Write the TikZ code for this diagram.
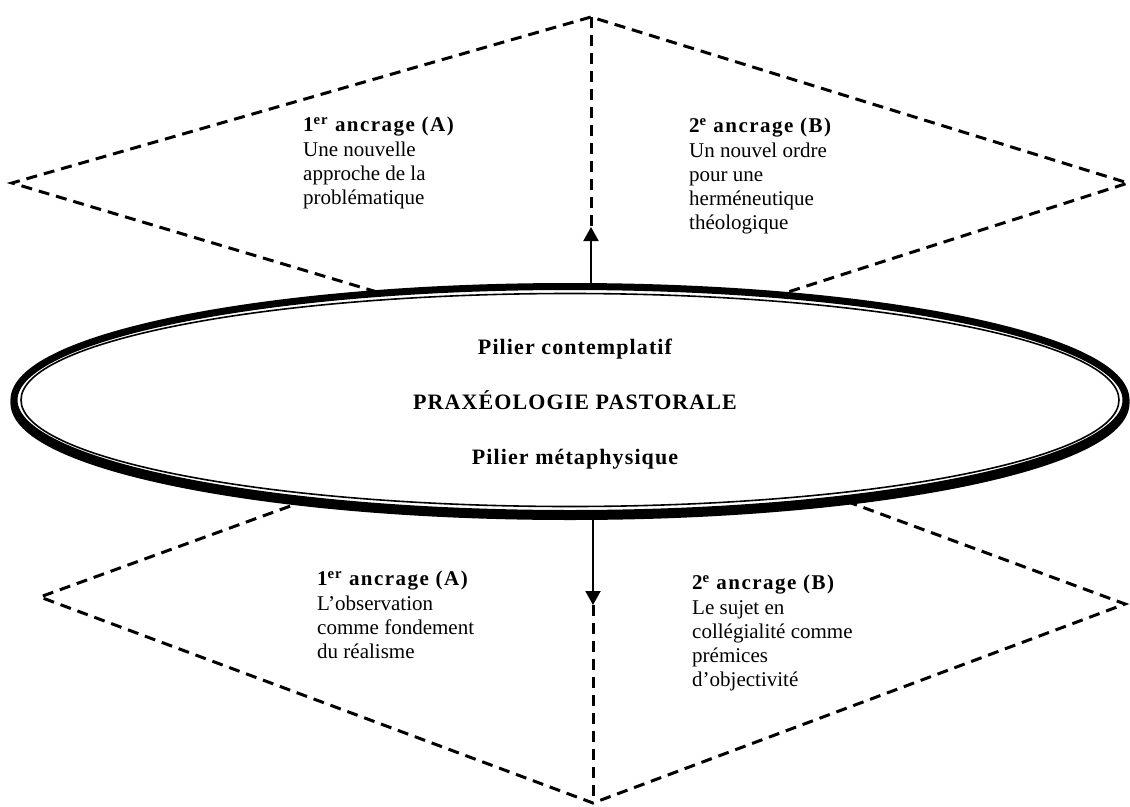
\documentclass[tikz,border=0pt]{standalone}
\usepackage{fontspec}
\setmainfont{Liberation Serif}
\usetikzlibrary{arrows.meta, positioning, shapes.geometric}

\newcommand{\anchorhead}[3]{{\bfseries\addfontfeature{LetterSpace=7}#1\textsuperscript{#2} ancrage (#3)}}

\begin{document}
\begin{tikzpicture}[x=1pt, y=-1pt,
node distance=55pt,
cutline/.style={dashed, line width=3pt, dash pattern=on 11pt off 7pt},
arrow/.style={-{Triangle[length=14pt, width=15pt]}, line width=2pt},
ring/.style={ellipse, draw, inner sep=0pt, minimum width=1112, minimum height=227},
txt/.style={align=left, anchor=north west, inner sep=0pt, font=\fontsize{21}{24.3}\selectfont},
pillar/.style={inner sep=0pt, anchor=base, font=\fontsize{22}{26}\selectfont\bfseries\addfontfeature{LetterSpace=5}} ]

\useasboundingbox (0,0) rectangle (1130,806);

% corners of the two dashed figures
\coordinate (apex) at (591,17);
\coordinate (upleft) at (12,183);
\coordinate (upright) at (1128,183);
\coordinate (ulmeet) at (377,292);
\coordinate (urmeet) at (788,292);
\coordinate (uptip) at (591,227);
\coordinate (lowleft) at (40,597);
\coordinate (lowright) at (1125,604);
\coordinate (nadir) at (593,803);
\coordinate (llmeet) at (307,500);
\coordinate (lrmeet) at (843,500);
\coordinate (downtip) at (593,605);

\draw[cutline] (ulmeet) -- (upleft) -- (apex) -- (upright) -- (urmeet);
\draw[cutline] (apex) -- (uptip);
\draw[cutline] (llmeet) -- (lowleft) -- (nadir) -- (lowright) -- (lrmeet);
\draw[cutline] (downtip) -- (nadir);

% the central ellipse, thick-thin border with a slight drop
\node[ring, line width=7pt] (praxisshadow) at (570,403) {};
\node[ring, line width=7pt, fill=white] (praxis) at (570,400) {};
\node[ellipse, draw, line width=1.6pt, inner sep=0pt, minimum width=1098, minimum height=213] (praxisinner) at (praxis.center) {};

\node[pillar] (prax) at (575,409) {PRAXÉOLOGIE PASTORALE};
\node[pillar, above=of prax.base, anchor=base] (contemplatif) {Pilier contemplatif};
\node[pillar, below=of prax.base, anchor=base] (metaphysique) {Pilier métaphysique};

\draw[arrow] (praxis.north -| apex) -- (uptip);
\draw[arrow] (praxisshadow.south -| nadir) -- (downtip);

% the four anchorings
\node[txt] (upA) at (303,117) {\anchorhead{1}{er}{A}\\Une nouvelle\\approche de la\\problématique};
\node[txt] (upB) at (689,118) {\anchorhead{2}{e}{B}\\Un nouvel ordre\\pour une\\herméneutique\\théologique};
\node[txt] (lowA) at (317,571) {\anchorhead{1}{er}{A}\\L’observation\\comme fondement\\du réalisme};
\node[txt] (lowB) at (692,575) {\anchorhead{2}{e}{B}\\Le sujet en\\collégialité comme\\prémices\\d’objectivité};

\end{tikzpicture}
\end{document}
